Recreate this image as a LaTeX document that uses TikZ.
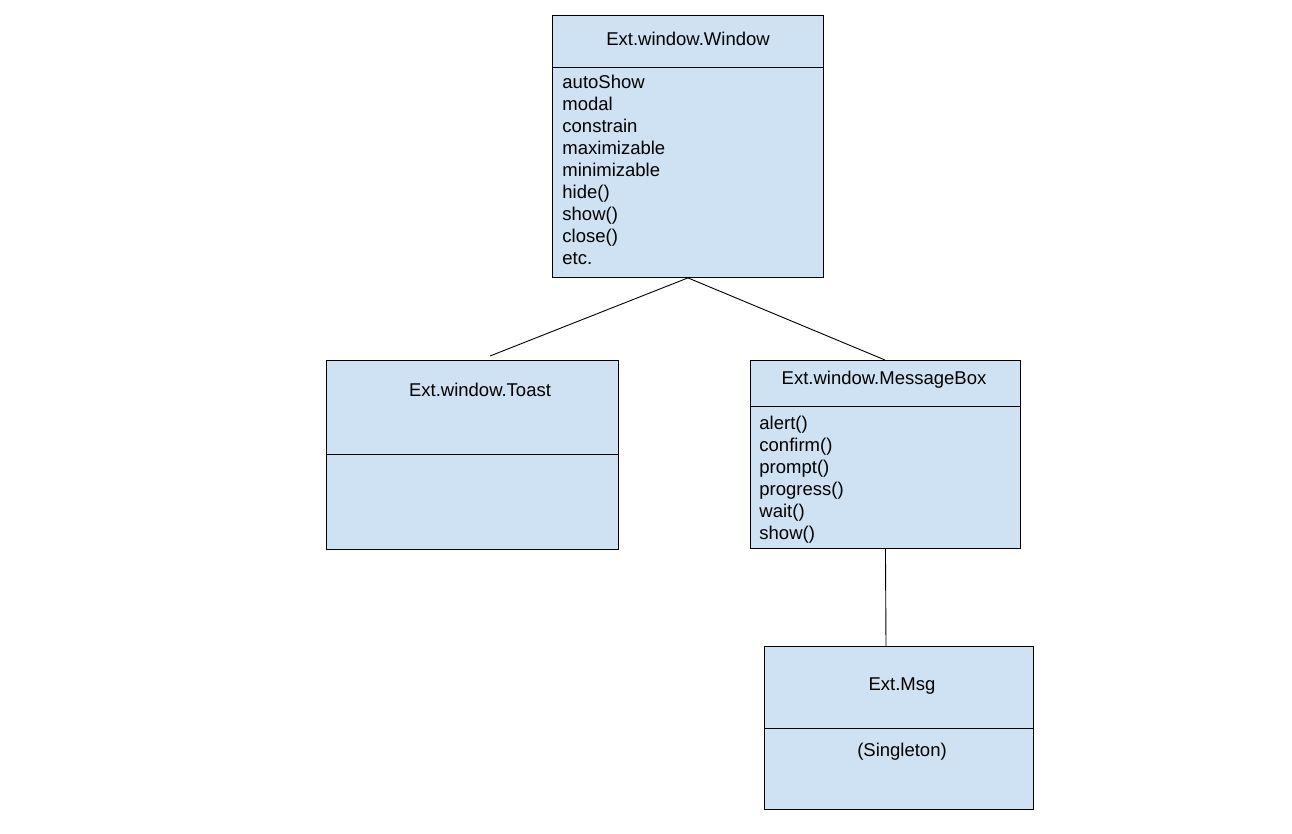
\documentclass[tikz,border=0pt]{standalone}
\usepackage{fontspec}
\setmainfont{Liberation Sans}
\definecolor{boxblue}{HTML}{CFE2F3}

\begin{document}
\begin{tikzpicture}[x=1pt,y=-1pt,line width=0.9pt,draw=black]
    \tikzstyle{classbox} = [rectangle, draw, fill=boxblue, anchor=north west, inner sep=0pt]
    \tikzstyle{title} = [inner sep=0pt, font=\fontsize{18.5}{22}\selectfont]
    \tikzstyle{members} = [inner sep=0pt, anchor=north west, align=left, font=\fontsize{18.5}{22}\selectfont]
    \useasboundingbox (0,0) rectangle (1292,834);

    %%% DRAW THE BOXES
    \node[classbox, minimum width=271pt, minimum height=262pt] (W) at (552,15) {};
    \node[classbox, minimum width=292pt, minimum height=189pt] (T) at (326,360) {};
    \node[classbox, minimum width=270pt, minimum height=188pt] (M) at (750,360) {};
    \node[classbox, minimum width=269pt, minimum height=163pt] (S) at (764,646) {};

    %%% DIVIDERS
    \draw ([yshift=-52pt]W.north west) -- ([yshift=-52pt]W.north east);
    \draw ([yshift=-94pt]T.north west) -- ([yshift=-94pt]T.north east);
    \draw ([yshift=-46.5pt]M.north west) -- ([yshift=-46.5pt]M.north east);
    \draw ([yshift=-82pt]S.north west) -- ([yshift=-82pt]S.north east);

    %%% TEXTS
    \node[title] (W-name) at (688,39) {Ext.window.Window};
    \node[members] (W-list) at (562,74.5) {autoShow\\modal\\constrain\\maximizable\\minimizable\\hide()\\show()\\close()\\etc.};
    \node[title] (T-name) at (480,390) {Ext.window.Toast};
    \node[title] (M-name) at (884,379.5) {Ext.window.MessageBox};
    \node[members] (M-list) at (759,415.5) {alert()\\confirm()\\prompt()\\progress()\\wait()\\show()};
    \node[title] (S-name) at (902,686.5) {Ext.Msg};
    \node[title] (S-note) at (902,752) {(Singleton)};

    %%% DRAW THE PATHS
    \coordinate (T-top) at (490,356);
    \coordinate (M-top) at (885,360);
    \draw (W.south) -- (T-top);
    \draw (W.south) -- (M-top);
    \draw (M.south) -- (S.north -| 886,0);
\end{tikzpicture}
\end{document}
